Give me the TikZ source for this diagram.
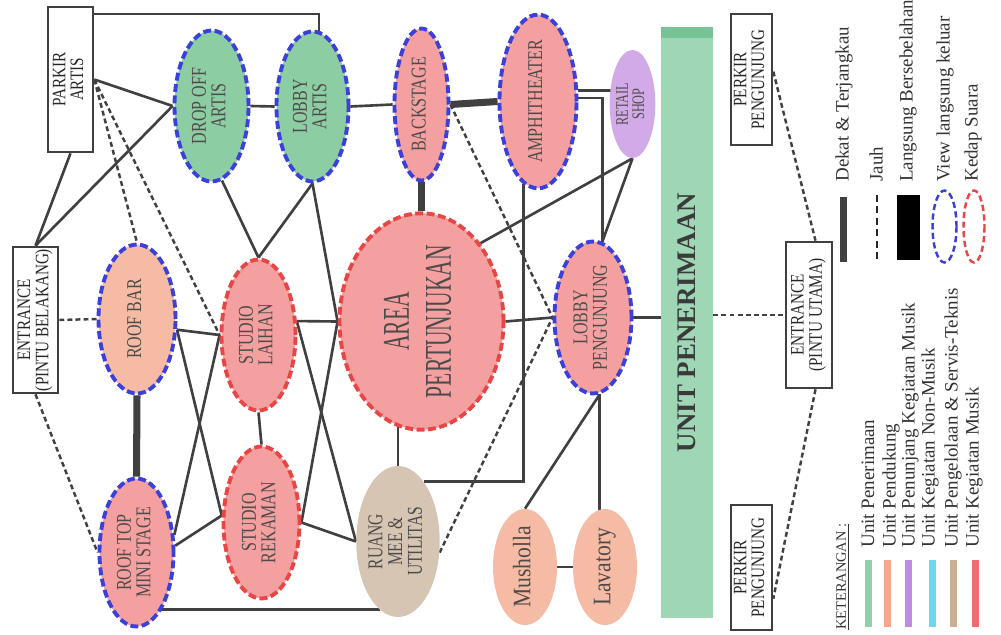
\documentclass[tikz,border=0pt]{standalone}
\usepackage{fontspec}
\setmainfont{Liberation Serif}
\usepackage{graphicx}
\usetikzlibrary{shapes.geometric,backgrounds}
\definecolor{H}{RGB}{140,205,163}
\definecolor{M}{RGB}{244,160,160}
\definecolor{S}{RGB}{246,187,164}
\definecolor{U}{RGB}{210,170,232}
\definecolor{C}{RGB}{213,197,178}
\definecolor{P}{RGB}{158,214,182}
\definecolor{P2}{RGB}{118,196,150}
\definecolor{B}{RGB}{59,64,216}
\definecolor{R}{RGB}{232,69,69}
\definecolor{G}{RGB}{64,64,64}
\definecolor{T}{RGB}{78,74,74}
\definecolor{L1}{RGB}{143,208,168}
\definecolor{L2}{RGB}{247,165,140}
\definecolor{L3}{RGB}{190,140,225}
\definecolor{L4}{RGB}{110,215,240}
\definecolor{L5}{RGB}{200,175,150}
\definecolor{L6}{RGB}{240,110,110}

\newcommand{\tegak}[2][0.76]{\rotatebox{90}{\scalebox{#1}[1]{\begin{tabular}{@{}c@{}}#2\end{tabular}}}}

\tikzset{
  lebar/.style={minimum width=#1*0.02cm},
  tinggi/.style={minimum height=#1*0.02cm},
  ruang/.style={ellipse, inner sep=0pt, text=T, font=\fontsize{12}{10.8}\selectfont},
  view/.style={ruang, draw=B, line width=2.2pt, dash pattern=on 4.5pt off 2pt},
  kedap/.style={ruang, draw=R, line width=2.2pt, dash pattern=on 4.5pt off 2pt},
  kotak/.style={rectangle, draw=G, line width=1.5pt, fill=white, inner sep=0pt, text=black!85, font=\fontsize{10.8}{9.8}\selectfont},
  dekat/.style={draw=G, line width=1.5pt},
  jauh/.style={draw=G, line width=1.4pt, dash pattern=on 2.8pt off 1.8pt},
  langsung/.style={draw=G, line width=4pt},
  ket/.style={inner sep=0pt, anchor=south, text=black!80, font=\fontsize{10.8}{12}\selectfont},
}

\begin{document}
\begin{tikzpicture}[x=0.02cm, y=-0.02cm]
    \useasboundingbox (0,0) rectangle (1001,635);

    %Parkir dan entrance
    \node[kotak, lebar=45, tinggi=145] (parkir) at (70.5,79.5) {\tegak[0.8]{PARKIR\\ARTIS}};
    \node[kotak, lebar=45, tinggi=146] (entbelakang) at (35.5,320) {\tegak[0.8]{ENTRANCE\\(PINTU BELAKANG)}};
    \node[kotak, lebar=41, tinggi=131] (parkiratas) at (751.5,79.5) {\tegak[0.8]{PERKIR\\PENGUNJUNG}};
    \node[kotak, lebar=41, tinggi=125] (parkirbawah) at (751.5,567.5) {\tegak[0.8]{PERKIR\\PENGUNJUNG}};
    \node[kotak, lebar=46, tinggi=146] (entutama) at (809,315) {\tegak[0.8]{ENTRANCE\\(PINTU UTAMA)}};

    %Ruang dengan view keluar (biru)
    \node[view, fill=H, lebar=74, tinggi=151] (dropoff) at (211.5,106) {\tegak{DROP OFF\\ARTIS}};
    \node[view, fill=H, lebar=72, tinggi=150] (lobbyartis) at (312.5,106.5) {\tegak{LOBBY\\ARTIS}};
    \node[view, fill=M, lebar=54, tinggi=152] (backstage) at (421.5,104.5) {\tegak{BACKSTAGE}};
    \node[view, fill=M, lebar=77, tinggi=150] (amphi) at (538,101.5) {\tegak{AMPHITHEATER}};
    \node[view, fill=S, lebar=77, tinggi=149] (roofbar) at (137,319) {\tegak{ROOF BAR}};
    \node[view, fill=M, lebar=77, tinggi=152] (lobbypeng) at (593,317.5) {\tegak{LOBBY\\PENGUNJUNG}};
    \node[view, fill=M, lebar=74, tinggi=148] (rooftop) at (136.5,552.5) {\tegak{ROOF TOP\\MINI STAGE}};

    %Ruang kedap suara (merah)
    \node[kedap, fill=M, lebar=74, tinggi=151] (laihan) at (258.5,335) {\tegak{STUDIO\\LAIHAN}};
    \node[kedap, fill=M, lebar=76, tinggi=152] (rekaman) at (261.5,522.5) {\tegak{STUDIO\\REKAMAN}};
    \node[kedap, fill=M, lebar=164, tinggi=204, font=\fontsize{21.5}{23.8}\selectfont] (area) at (421.5,321.5) {\tegak[0.57]{AREA\\PERTUNJUKAN}};

    %Ruang tanpa garis tepi
    \node[ruang, fill=U, lebar=45, tinggi=108, font=\fontsize{10}{8.6}\selectfont] (retail) at (632.5,104) {\tegak[0.7]{RETAIL\\SHOP}};
    \node[ruang, fill=C, lebar=76, tinggi=151] (ruangmee) at (398,541.5) {\tegak[0.74]{RUANG\\MEE \&\\UTILITAS}};
    \node[ruang, fill=S, lebar=64, tinggi=116, font=\fontsize{14.3}{15}\selectfont] (musholla) at (525,567) {\tegak[0.86]{Musholla}};
    \node[ruang, fill=S, lebar=64, tinggi=116, font=\fontsize{14.3}{15}\selectfont] (lavatory) at (605,567) {\tegak[0.86]{Lavatory}};

    %Unit penerimaan
    \node[rectangle, fill=P, inner sep=0pt, lebar=52, tinggi=591, text=G!90!black, font=\bfseries\fontsize{15.3}{16}\selectfont] (penerimaan) at (687,322.5) {\rotatebox{90}{UNIT PENERIMAAN}};
    \fill[color=P2] (penerimaan.north west) rectangle ([shift={(0,11)}]penerimaan.north east);

    %Garis hubungan (di belakang ruang)
    \begin{scope}[on background layer]
        \draw[dekat] (parkir.70) -| (lobbyartis.85);
        \draw[dekat] (parkir.east) -- (dropoff.west);
        \draw[dekat] (parkir.south) -- (entbelakang.north);
        \draw[dekat] (entbelakang.north) -- (dropoff.west);
        \draw[jauh] (parkir.east) -- (roofbar.north);
        \draw[jauh] (parkir.east) -- (laihan.west);
        \draw[jauh] (entbelakang.east) -- (roofbar.west);
        \draw[jauh] (entbelakang.south) -- (rooftop.west);
        \draw[langsung] (roofbar.south) -- (rooftop.north);
        \draw[dekat] (roofbar.-15) -- (laihan.west);
        \draw[dekat] (roofbar.-15) -- (rekaman.170);
        \draw[dekat] (rooftop.25) -- (laihan.west);
        \draw[dekat] (rooftop.10) -- (rekaman.170);
        \draw[dekat] (ruangmee.-105) -- (ruangmee.-105 -| rooftop.center);
        \draw[dekat] (dropoff.east) -- (lobbyartis.west);
        \draw[dekat] (dropoff.-82) -- (laihan.north);
        \draw[dekat] (lobbyartis.south) -- (laihan.north);
        \draw[dekat] (lobbyartis.south) -- (area.west);
        \draw[dekat] (laihan.20) -- (area.west);
        \draw[dekat] (area.west) -- (rekaman.east);
        \draw[dekat] (laihan.20) -- (ruangmee.west);
        \draw[dekat] (rekaman.east) -- (ruangmee.west);
        \draw[dekat] (laihan.south) -- (rekaman.north);
        \draw[dekat] (lobbyartis.east) -- (backstage.west);
        \draw[langsung] (backstage.east) -- (amphi.west);
        \draw[langsung] (backstage.south) -- (area.north);
        \draw[jauh] (backstage.east) -- (lobbypeng.west);
        \draw[dekat] (amphi.15) -- (amphi.15 -| retail.center);
        \draw[dekat] (amphi.5) -| (lobbypeng.83);
        \draw[dekat] (amphi.-100) |- (ruangmee.67);
        \draw[dekat] (retail.south) -- (lobbypeng.83);
        \draw[dekat] (retail.south) -- (area.53);
        \draw[dekat] (ruangmee.north) -- (ruangmee.north |- area.center);
        \draw[dekat] (area.east) -- (lobbypeng.west);
        \draw[jauh] (ruangmee.-15) -- (lobbypeng.west);
        \draw[dekat] (lobbypeng.east) -- (lobbypeng.east -| penerimaan.west);
        \draw[dekat] (lobbypeng.-85) -- (musholla.north);
        \draw[dekat] (lobbypeng.-85) -- (lobbypeng.-85 |- lavatory.center);
        \draw[dekat] (musholla.east) -- (lavatory.west);
        \draw[jauh] (entutama.west -| penerimaan.east) -- (entutama.west);
        \draw[jauh] (parkiratas.20) -- (entutama.85);
        \draw[jauh] (entutama.-85) -- (parkirbawah.-55);
    \end{scope}

    %Keterangan garis dan ruang
    \fill[color=G] (840,197) rectangle (847,262);
    \node[ket] (ketdekat) at (844,182) {\rotatebox{90}{Dekat \& Terjangkau}};
    \draw[draw=black!85, line width=1.6pt, dash pattern=on 4pt off 2.5pt] (877,195) -- (877,260);
    \node[ket] (ketjauh) at (876,182) {\rotatebox{90}{Jauh}};
    \fill[color=black] (897,195) rectangle (920,260);
    \node[ket] (ketlangsung) at (908,182) {\rotatebox{90}{Langsung Bersebelahan}};
    \draw[draw=B, line width=1.4pt, dash pattern=on 3.5pt off 2pt] (944.5,226.5) ellipse (12 and 36);
    \node[ket] (ketview) at (945,182) {\rotatebox{90}{View langsung keluar}};
    \draw[draw=R, line width=1.4pt, dash pattern=on 3.5pt off 2pt] (974,226.5) ellipse (10.5 and 36);
    \node[ket] (ketkedap) at (973,182) {\rotatebox{90}{Kedap Suara}};

    %Keterangan warna unit
    \node[ket, font=\fontsize{8.2}{9}\selectfont] (keterangan) at (843,630) {\rotatebox{90}{\underline{KETERANGAN :}}};
    \foreach \x/\w in {868/L1, 887/L2, 908/L3, 932/L4, 953/L5, 975/L6}
        \fill[color=\w] (\x-3.5,560) rectangle (\x+3.5,627);
    \foreach \x/\t in {868/Unit Penerimaan, 891/Unit Pendukung, 910/Unit Penunjang Kegiatan Musik, 930/Unit Kegiatan Non-Musik, 953/Unit Pengelolaan \& Servis-Teknis, 974/Unit Kegiatan Musik}
        \node[ket] (unit\x) at (\x,548) {\rotatebox{90}{\t}};
\end{tikzpicture}
\end{document}
